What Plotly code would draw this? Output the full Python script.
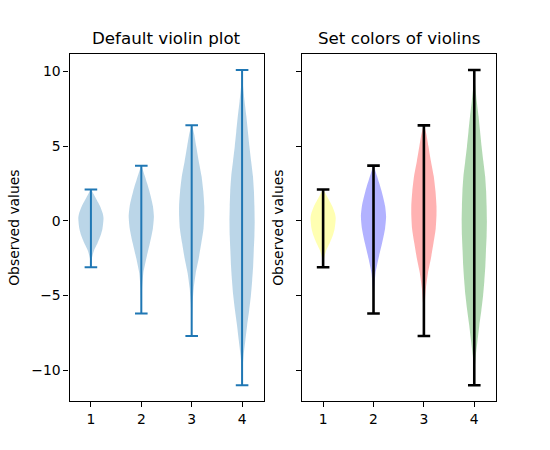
import plotly.graph_objects as go

# Data: value levels and half-widths (density profile, in x units)
positions = [1, 2, 3, 4]

v1_y = [2.1, 1.5, 1.0, 0.5, 0.2, -0.5, -1.0, -1.5, -2.0, -2.5, -3.1]
v1_w = [0.005, 0.10, 0.18, 0.235, 0.25, 0.23, 0.19, 0.13, 0.06, 0.02, 0.005]

v2_y = [3.7, 3.0, 2.0, 1.0, 0.3, -0.5, -1.5, -2.5, -3.5, -4.5, -5.5, -6.2]
v2_w = [0.005, 0.07, 0.16, 0.23, 0.25, 0.23, 0.17, 0.10, 0.04, 0.015, 0.005, 0.002]

v3_y = [6.4, 5.8, 5.0, 4.0, 3.0, 2.0, 1.0, 0.4, -0.5, -1.5, -2.5, -3.5, -4.5, -5.5, -6.5, -7.7]
v3_w = [0.005, 0.05, 0.09, 0.14, 0.195, 0.23, 0.25, 0.25, 0.235, 0.19, 0.14, 0.08, 0.04, 0.018, 0.008, 0.002]

v4_y = [10.1, 9.5, 9, 8, 7, 6, 5, 4, 3, 2, 1, 0, -1, -2, -3, -4, -5, -6, -7, -8, -9, -10, -11]
v4_w = [0.003, 0.01, 0.02, 0.05, 0.085, 0.115, 0.145, 0.18, 0.215, 0.235, 0.245, 0.25, 0.245,
        0.232, 0.22, 0.20, 0.175, 0.14, 0.10, 0.065, 0.03, 0.008, 0.002]

profiles_y = [v1_y, v2_y, v3_y, v4_y]
profiles_w = [v1_w, v2_w, v3_w, v4_w]

left_fill = "rgba(31,119,180,0.3)"
left_line = "#1f77b4"
right_fills = ["rgba(255,255,0,0.3)", "rgba(0,0,255,0.3)", "rgba(255,0,0,0.3)", "rgba(0,128,0,0.3)"]
right_line = "black"

cap_half = 0.125

fig = go.Figure()

def add_violins(xa, ya, fills, linecolor, lw):
    for i, pos in enumerate(positions):
        ys = profiles_y[i]
        ws = profiles_w[i]
        xs = [pos + w for w in ws] + [pos - w for w in ws[::-1]]
        yy = list(ys) + list(ys[::-1])
        fig.add_trace(go.Scatter(x=xs, y=yy, mode="lines", fill="toself",
                                 fillcolor=fills[i], line=dict(width=0, shape="spline", smoothing=0.6),
                                 xaxis=xa, yaxis=ya, hoverinfo="skip", showlegend=False))
    for i, pos in enumerate(positions):
        ymax = max(profiles_y[i]); ymin = min(profiles_y[i])
        fig.add_trace(go.Scatter(x=[pos, pos], y=[ymin, ymax], mode="lines",
                                 line=dict(color=linecolor, width=lw),
                                 xaxis=xa, yaxis=ya, hoverinfo="skip", showlegend=False))
        for yv in (ymin, ymax):
            fig.add_trace(go.Scatter(x=[pos - cap_half, pos + cap_half], y=[yv, yv], mode="lines",
                                     line=dict(color=linecolor, width=lw),
                                     xaxis=xa, yaxis=ya, hoverinfo="skip", showlegend=False))

add_violins("x", "y", [left_fill] * 4, left_line, 2)
add_violins("x2", "y2", right_fills, right_line, 2.6)

W, H = 550, 450
ytop = 1 - 54.3 / H
ybot = 1 - 401 / H
xd1 = [69.5 / W, 263.5 / W]
xd2 = [301.7 / W, 495.7 / W]

font = dict(family="DejaVu Sans", size=13.9, color="black")
axis_common = dict(showline=True, linecolor="black", linewidth=1.1, mirror=True,
                   ticks="outside", ticklen=5, tickwidth=1.1, tickcolor="black",
                   showgrid=False, zeroline=False, tickfont=font)

yr = [-12.055, 11.155]
xr = [0.575, 4.425]

fig.update_layout(
    width=W, height=H, margin=dict(l=0, r=0, t=0, b=0),
    plot_bgcolor="white", paper_bgcolor="white",
    font=font,
    xaxis=dict(domain=xd1, range=xr, tickvals=positions, anchor="y", **axis_common),
    yaxis=dict(domain=[ybot, ytop], range=yr, tickvals=[-10, -5, 0, 5, 10],
               ticktext=["\u221210", "\u22125", "0", "5", "10"], anchor="x",
               title=dict(text="Observed values", font=font, standoff=8), **axis_common),
    xaxis2=dict(domain=xd2, range=xr, tickvals=positions, anchor="y2", **axis_common),
    yaxis2=dict(domain=[ybot, ytop], range=yr, tickvals=[-10, -5, 0, 5, 10],
                showticklabels=False, anchor="x2",
                title=dict(text="Observed values", font=font, standoff=8), **axis_common),
    annotations=[
        dict(text="Default violin plot", x=(xd1[0] + xd1[1]) / 2, y=ytop, xref="paper", yref="paper",
             xanchor="center", yanchor="bottom", yshift=4, showarrow=False,
             font=dict(family="DejaVu Sans", size=16.7, color="black")),
        dict(text="Set colors of violins", x=(xd2[0] + xd2[1]) / 2, y=ytop, xref="paper", yref="paper",
             xanchor="center", yanchor="bottom", yshift=4, showarrow=False,
             font=dict(family="DejaVu Sans", size=16.7, color="black")),
    ],
)

fig.write_html("out.html")
